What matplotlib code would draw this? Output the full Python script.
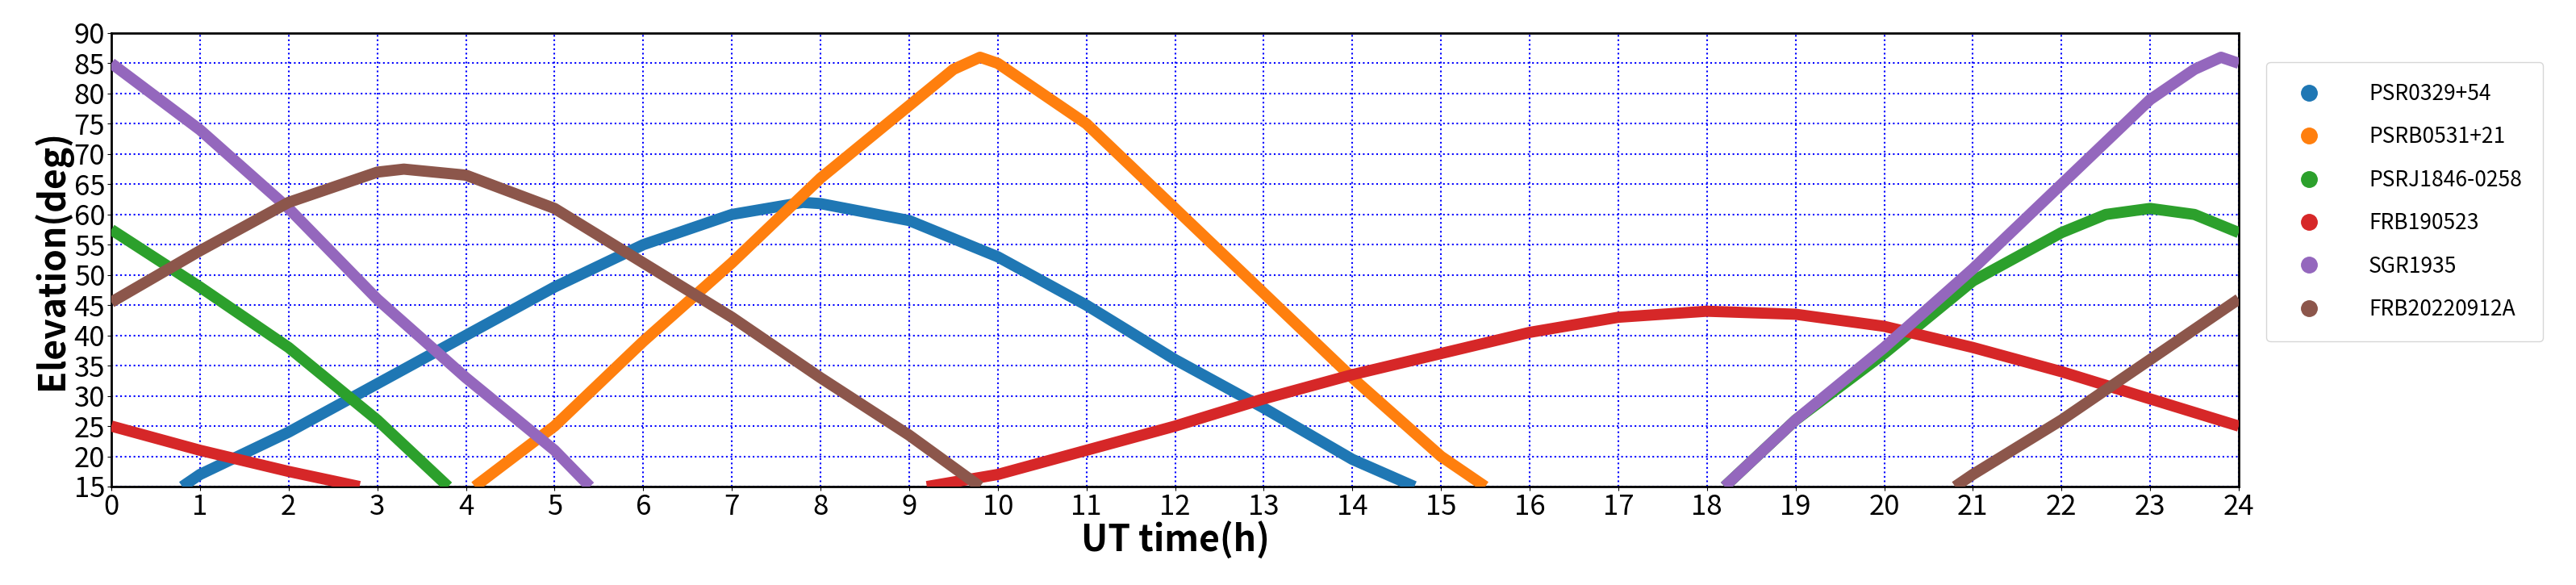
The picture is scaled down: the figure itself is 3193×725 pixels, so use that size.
import matplotlib
matplotlib.use("Agg")
import matplotlib.pyplot as plt
from matplotlib.lines import Line2D
import numpy as np

plt.rcParams['font.family'] = ['Noto Sans CJK SC', 'DejaVu Sans']

names = ["PSR0329+54", "PSRB0531+21", "PSRJ1846-0258", "FRB190523", "SGR1935", "FRB20220912A"]
colors = ["#1f77b4", "#ff7f0e", "#2ca02c", "#d62728", "#9467bd", "#8c564b"]

# each source: list of segments (x hours, y elevation deg)
psr0329 = [([0.8, 1, 2, 3, 4, 5, 6, 7, 7.8, 8, 9, 10, 11, 12, 13, 14, 14.7],
            [15, 17, 24, 32, 40, 48, 55, 60, 62, 61.8, 59, 53, 45, 36, 28, 19.5, 15])]
psrb0531 = [([4.1, 5, 6, 7, 8, 9, 9.5, 9.8, 10, 11, 12, 13, 14, 15, 15.5],
             [15, 25, 39, 52, 66, 78, 84, 86, 85, 75, 61, 47, 33, 20, 15])]
psrj1846 = [([0, 1, 2, 3, 3.8], [57.5, 48, 38, 26, 15]),
            ([18.2, 19, 20, 21, 22, 22.5, 23, 23.5, 24], [15, 26, 37, 49, 57, 60, 61, 60, 57])]
frb190523 = [([0, 1, 2, 2.8], [25, 21, 17.5, 15]),
             ([9.2, 10, 11, 12, 13, 14, 15, 16, 17, 18, 19, 20, 21, 22, 23, 24],
              [15, 17, 21, 25, 29.5, 33.5, 37, 40.5, 43, 44, 43.5, 41.5, 38, 34, 29.5, 25])]
sgr1935 = [([0, 1, 2, 3, 4, 5, 5.4], [85, 74, 61, 46, 33, 21, 15]),
           ([18.2, 19, 20, 21, 22, 23, 23.5, 23.8, 24], [15, 26, 38, 51, 65, 79, 84, 86, 85])]
frb2022 = [([0, 1, 2, 3, 3.3, 4, 5, 6, 7, 8, 9, 9.8],
            [45.5, 54, 62, 67, 67.5, 66.5, 61, 52, 43, 33, 23.5, 15]),
           ([20.8, 21, 22, 23, 24], [15, 17, 26, 36, 46])]
series = [psr0329, psrb0531, psrj1846, frb190523, sgr1935, frb2022]

fig = plt.figure(figsize=(31.93, 7.25), dpi=100)
ax = fig.add_axes([138/3193, 1-603/725, (2775-138)/3193, (603-41)/725])
for segs, c in zip(series, colors):
    for xs, ys in segs:
        ax.plot(xs, ys, color=c, lw=10, solid_capstyle='butt', solid_joinstyle='round', zorder=3)

ax.set_xlim(0, 24)
ax.set_ylim(15, 90)
ax.set_xticks(range(0, 25))
ax.set_yticks(range(15, 91, 5))
ax.tick_params(labelsize=25, pad=2)
ax.grid(True, color='blue', linestyle=':', linewidth=1.5)
ax.set_xlabel("UT time(h)", fontsize=32, fontweight='bold', labelpad=0)
ax.set_ylabel("Elevation(deg)", fontsize=32, fontweight='bold', labelpad=2)
for s in ax.spines.values():
    s.set_linewidth(2)

handles = [Line2D([], [], marker='o', ls='', color=c, markersize=14) for c in colors]
ax.legend(handles, names, loc='upper left', bbox_to_anchor=(1.008, 0.96), fontsize=19,
          labelspacing=1.0, handletextpad=1.8, borderpad=1.0)
fig.savefig("out.png", dpi=100)
